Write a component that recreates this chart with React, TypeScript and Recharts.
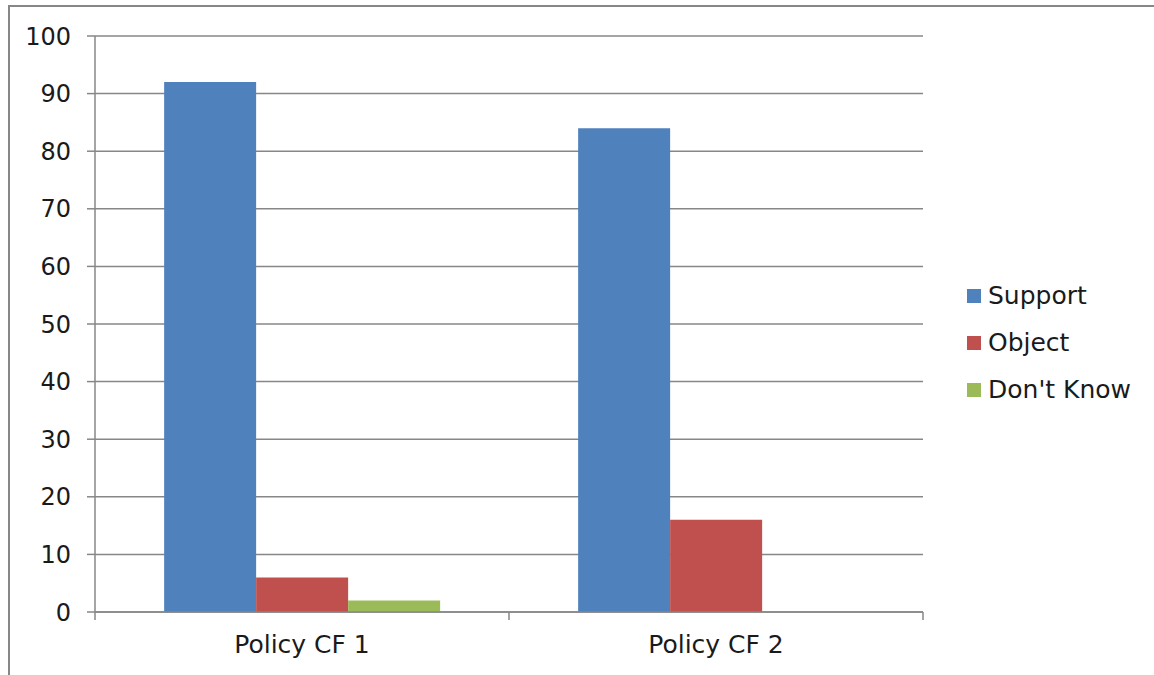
import React from "react";
import { BarChart, Bar, XAxis, YAxis, CartesianGrid } from "recharts";

const categories = ["Policy CF 1", "Policy CF 2"];
const supportValues = [92, 84];
const objectValues = [6, 16];
const dontKnowValues = [2, 0];
const yTicks = [0, 10, 20, 30, 40, 50, 60, 70, 80, 90, 100];

const seriesNames = ["Support", "Object", "Don't Know"];
const seriesColors = ["#4F81BD", "#C0504D", "#9BBB59"];

const data = categories.map((name, i) => ({
  name,
  Support: supportValues[i],
  Object: objectValues[i],
  "Don't Know": dontKnowValues[i],
}));

const FONT = "'DejaVu Sans', sans-serif";
const GRAY = "#878787";
const TICK_SIZE = 8;
const TICK_MARGIN = 15;

const CategoryTick = (props: any) => {
  const { x, y, payload, index, visibleTicksCount } = props;
  const half = payload && payload.offset ? payload.offset : 0;
  const axisY = y - TICK_SIZE - TICK_MARGIN;
  const isLast = index === visibleTicksCount - 1;
  return (
    <g>
      <line x1={x - half} x2={x - half} y1={axisY} y2={axisY + TICK_SIZE} stroke={GRAY} strokeWidth={1.5} />
      {isLast && (
        <line x1={x + half} x2={x + half} y1={axisY} y2={axisY + TICK_SIZE} stroke={GRAY} strokeWidth={1.5} />
      )}
      <text x={x} y={y} dy="0.71em" textAnchor="middle" fontFamily={FONT} fontSize={25} fill="#1a1a1a">
        {payload.value}
      </text>
    </g>
  );
};

const LegendBox = () => (
  <div
    style={{
      position: "absolute",
      left: 967,
      top: 272,
      fontFamily: FONT,
      fontSize: 25,
      color: "#1a1a1a",
    }}
  >
    {seriesNames.map((n, i) => (
      <div key={n} style={{ display: "flex", alignItems: "center", height: 47, whiteSpace: "nowrap" }}>
        <span
          style={{
            display: "inline-block",
            width: 14,
            height: 14,
            background: seriesColors[i],
            marginRight: 7,
          }}
        />
        <span>{n}</span>
      </div>
    ))}
  </div>
);

export default function App() {
  return (
    <div style={{ position: "absolute", left: 0, top: 0, width: 1154, height: 675, background: "#fff", overflow: "hidden" }}>
      <div
        style={{
          position: "absolute",
          left: 8,
          top: 5,
          width: 1300,
          height: 800,
          borderLeft: `2px solid ${GRAY}`,
          borderTop: `2px solid ${GRAY}`,
        }}
      />
      <div style={{ position: "absolute", left: 0, top: 0 }}>
        <BarChart
          width={1154}
          height={675}
          data={data}
          margin={{ top: 36, right: 231, bottom: 23, left: 8 }}
          barGap={0}
          barCategoryGap="16.7%"
        >
          <CartesianGrid vertical={false} stroke={GRAY} strokeWidth={1.5} />
          <XAxis
            dataKey="name"
            height={40}
            axisLine={{ stroke: GRAY, strokeWidth: 1.5 }}
            tickLine={false}
            tickSize={TICK_SIZE}
            tickMargin={TICK_MARGIN}
            interval={0}
            tick={<CategoryTick />}
          />
          <YAxis
            domain={[0, 100]}
            ticks={yTicks}
            width={87}
            tickSize={8}
            tickMargin={16}
            interval={0}
            axisLine={{ stroke: GRAY, strokeWidth: 1.5 }}
            tickLine={{ stroke: GRAY, strokeWidth: 1.5 }}
            tick={{ fontFamily: FONT, fontSize: 24, fill: "#1a1a1a" }}
          />
          {seriesNames.map((n, i) => (
            <Bar key={n} dataKey={n} fill={seriesColors[i]} isAnimationActive={false} />
          ))}
        </BarChart>
      </div>
      <LegendBox />
    </div>
  );
}
